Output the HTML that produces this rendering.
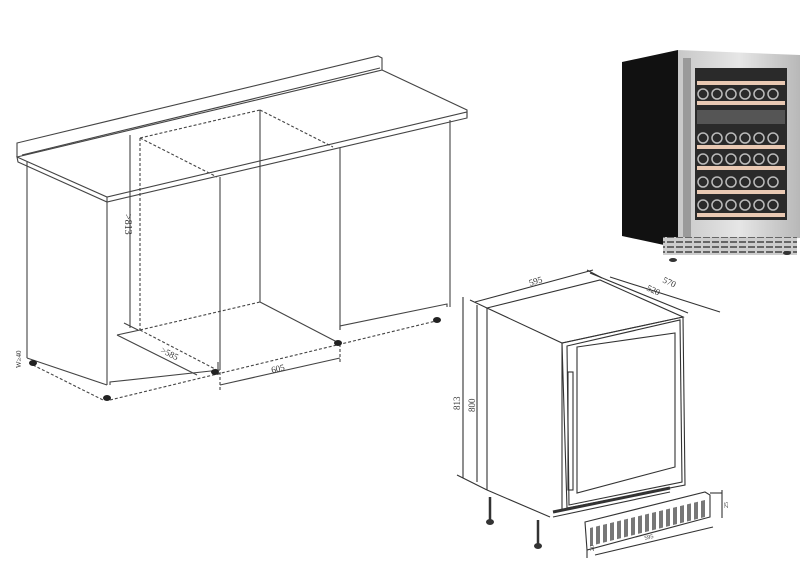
<!DOCTYPE html>
<html><head><meta charset="utf-8"><style>
html,body{margin:0;padding:0;background:#fff}
svg{display:block}
text{font-family:"Liberation Serif",serif;fill:#333}
</style></head><body>
<svg width="809" height="572" viewBox="0 0 809 572" xmlns="http://www.w3.org/2000/svg">
<defs>
<linearGradient id="ss" x1="0" x2="1"><stop offset="0" stop-color="#c8c8c8"/><stop offset=".5" stop-color="#e6e6e6"/><stop offset="1" stop-color="#b8b8b8"/></linearGradient>
<pattern id="grl" width="9" height="5" patternUnits="userSpaceOnUse"><rect width="9" height="5" fill="#ccc"/><rect x="1" y="1" width="7" height="2" fill="#666"/></pattern>
<pattern id="vent" width="7" height="30" patternUnits="userSpaceOnUse"><rect width="7" height="30" fill="#fff"/><rect x="1" width="4" height="30" fill="#555"/></pattern>
</defs>
<g fill="none" stroke="#444" stroke-width="1.1">
<!-- countertop -->
<polyline points="17,157 17,143 378,56 382,58 382,70"/>
<line x1="17" y1="157" x2="382" y2="70"/>
<line x1="22" y1="155" x2="380" y2="68"/>
<polyline points="382,70 467,110 467,117"/>
<polygon points="17,157 107,197 467,112 467,118 107,202 18,162"/>
<line x1="107" y1="197" x2="107" y2="202"/>
<!-- left cabinet -->
<line x1="27" y1="162" x2="27" y2="358"/>
<line x1="107" y1="202" x2="107" y2="385"/>
<line x1="27" y1="358" x2="107" y2="385"/>
<polyline points="110,385 110,382 220,370"/>
<line x1="220" y1="177" x2="220" y2="370"/>
<!-- right cabinet -->
<line x1="340" y1="148" x2="340" y2="330"/>
<line x1="450" y1="120" x2="450" y2="307"/>
<polyline points="340,330 340,326 447,304 447,307"/>
<!-- inner opening -->
<line x1="260" y1="110" x2="260" y2="302"/>
<line x1="260" y1="302" x2="337" y2="342"/>
<line x1="220" y1="370" x2="260" y2="302" stroke="none"/>
<line x1="140" y1="330" x2="260" y2="302" stroke-dasharray="3,2"/>
<g stroke-dasharray="3,2">
<line x1="140" y1="138" x2="260" y2="110"/>
<line x1="140" y1="138" x2="217" y2="177"/>
<line x1="260" y1="110" x2="333" y2="147"/>
<line x1="140" y1="138" x2="140" y2="330"/>
<line x1="140" y1="330" x2="217" y2="370"/>
<line x1="33" y1="365" x2="103" y2="400"/>
<line x1="110" y1="400" x2="440" y2="320"/>
<line x1="220" y1="372" x2="220" y2="392"/>
<line x1="340" y1="344" x2="340" y2="362"/>
</g>
<!-- dims -->
<line x1="130" y1="135" x2="130" y2="328"/>
<line x1="124" y1="323" x2="138" y2="330"/>
<line x1="117" y1="335" x2="197" y2="375"/>
<line x1="117" y1="335" x2="140" y2="330"/>
<line x1="220" y1="385" x2="340" y2="358"/>
<line x1="218" y1="362" x2="218" y2="375"/>
</g>
<g fill="#222">
<ellipse cx="33" cy="363" rx="4" ry="3"/><ellipse cx="107" cy="398" rx="4" ry="3"/>
<ellipse cx="215" cy="372" rx="4" ry="3"/><ellipse cx="338" cy="343" rx="4" ry="3"/>
<ellipse cx="437" cy="320" rx="4" ry="3"/>
</g>
<text x="0" y="0" font-size="10" transform="translate(125,214) rotate(90)">&gt;813</text>
<text x="0" y="0" font-size="9" transform="translate(160,352) rotate(27)">&gt;585</text>
<text x="0" y="0" font-size="9" transform="translate(272,373) rotate(-13)">605</text>
<text x="0" y="0" font-size="7" transform="translate(21,368) rotate(-90)">W≥40</text>

<!-- line drawing fridge -->
<g fill="none" stroke="#333" stroke-width="1.1">
<polygon points="487,308 600,280 683,317 562,343"/>
<line x1="487" y1="308" x2="487" y2="490"/>
<line x1="562" y1="343" x2="562" y2="510"/>
<line x1="487" y1="490" x2="550" y2="517"/>
<polygon points="562,343 683,317 685,485 567,508"/>
<polygon points="567,346 680,320 682,482 569,505"/>
<polygon points="577,347 675,333 675,467 577,493"/>
<rect x="568" y="372" width="5" height="118"/>
<line x1="553" y1="512" x2="670" y2="488" stroke-width="3"/>
<line x1="553" y1="517" x2="670" y2="492"/>
<!-- dims -->
<line x1="475" y1="302" x2="593" y2="270"/>
<line x1="470" y1="300" x2="487" y2="308"/>
<line x1="587" y1="270" x2="602" y2="278"/>
<line x1="610" y1="277" x2="720" y2="312"/>
<line x1="590" y1="273" x2="688" y2="313"/>
<line x1="463" y1="297" x2="463" y2="478"/>
<line x1="477" y1="305" x2="477" y2="482"/>
<line x1="457" y1="475" x2="487" y2="490"/>
<!-- feet -->
<line x1="490" y1="497" x2="490" y2="520" stroke-width="2.5"/>
<line x1="538" y1="520" x2="538" y2="544" stroke-width="2.5"/>
<!-- kickplate -->
<polygon points="585,522 705,492 710,495 710,517 587,550"/>
<line x1="587" y1="550" x2="587" y2="558"/>
<line x1="595" y1="555" x2="713" y2="527"/>
<line x1="710" y1="493" x2="722" y2="493"/>
<line x1="722" y1="490" x2="722" y2="518"/>
</g>
<polygon points="590,528 705,500 705,517 590,546" fill="url(#vent)" opacity=".8"/>
<ellipse cx="490" cy="522" rx="4" ry="3" fill="#333"/><ellipse cx="538" cy="546" rx="4" ry="3" fill="#333"/>
<text font-size="9" transform="translate(530,286) rotate(-17)">595</text>
<text font-size="9" transform="translate(662,282) rotate(25)">570</text>
<text font-size="9" transform="translate(646,290) rotate(25)">520</text>
<text font-size="9" transform="translate(460,410) rotate(-90)">813</text>
<text font-size="9" transform="translate(475,412) rotate(-90)">800</text>
<text font-size="6" transform="translate(645,540) rotate(-14)">595</text>
<text font-size="6" transform="translate(728,508) rotate(-90)">25</text>
<text font-size="6" transform="translate(594,551) rotate(-90)">20</text>

<!-- photo fridge -->
<polygon points="622,62 678,50 678,248 622,236" fill="#111"/>
<polygon points="678,50 800,55 800,238 678,244" fill="url(#ss)"/>
<rect x="695" y="68" width="92" height="152" fill="#2a2a2a"/>
<rect x="683" y="58" width="8" height="180" fill="#9a9a9a"/>
<g fill="#e9c9b3">
<rect x="697" y="81" width="88" height="4"/><rect x="697" y="101" width="88" height="4"/>
<rect x="697" y="145" width="88" height="4"/><rect x="697" y="166" width="88" height="4"/>
<rect x="697" y="190" width="88" height="4"/><rect x="697" y="213" width="88" height="4"/>
</g>
<rect x="697" y="110" width="88" height="14" fill="#555"/>
<g fill="none" stroke="#bbb" stroke-width="1.5">
<circle cx="703" cy="94" r="5"/><circle cx="717" cy="94" r="5"/><circle cx="731" cy="94" r="5"/><circle cx="745" cy="94" r="5"/><circle cx="759" cy="94" r="5"/><circle cx="773" cy="94" r="5"/>
<circle cx="703" cy="138" r="5"/><circle cx="717" cy="138" r="5"/><circle cx="731" cy="138" r="5"/><circle cx="745" cy="138" r="5"/><circle cx="759" cy="138" r="5"/><circle cx="773" cy="138" r="5"/>
<circle cx="703" cy="159" r="5"/><circle cx="717" cy="159" r="5"/><circle cx="731" cy="159" r="5"/><circle cx="745" cy="159" r="5"/><circle cx="759" cy="159" r="5"/><circle cx="773" cy="159" r="5"/>
<circle cx="703" cy="182" r="5"/><circle cx="717" cy="182" r="5"/><circle cx="731" cy="182" r="5"/><circle cx="745" cy="182" r="5"/><circle cx="759" cy="182" r="5"/><circle cx="773" cy="182" r="5"/>
<circle cx="703" cy="205" r="5"/><circle cx="717" cy="205" r="5"/><circle cx="731" cy="205" r="5"/><circle cx="745" cy="205" r="5"/><circle cx="759" cy="205" r="5"/><circle cx="773" cy="205" r="5"/>
</g>
<rect x="663" y="237" width="134" height="18" fill="url(#grl)"/>
<ellipse cx="673" cy="260" rx="4" ry="2" fill="#333"/><ellipse cx="787" cy="253" rx="4" ry="2" fill="#333"/>
</svg>
</body></html>
